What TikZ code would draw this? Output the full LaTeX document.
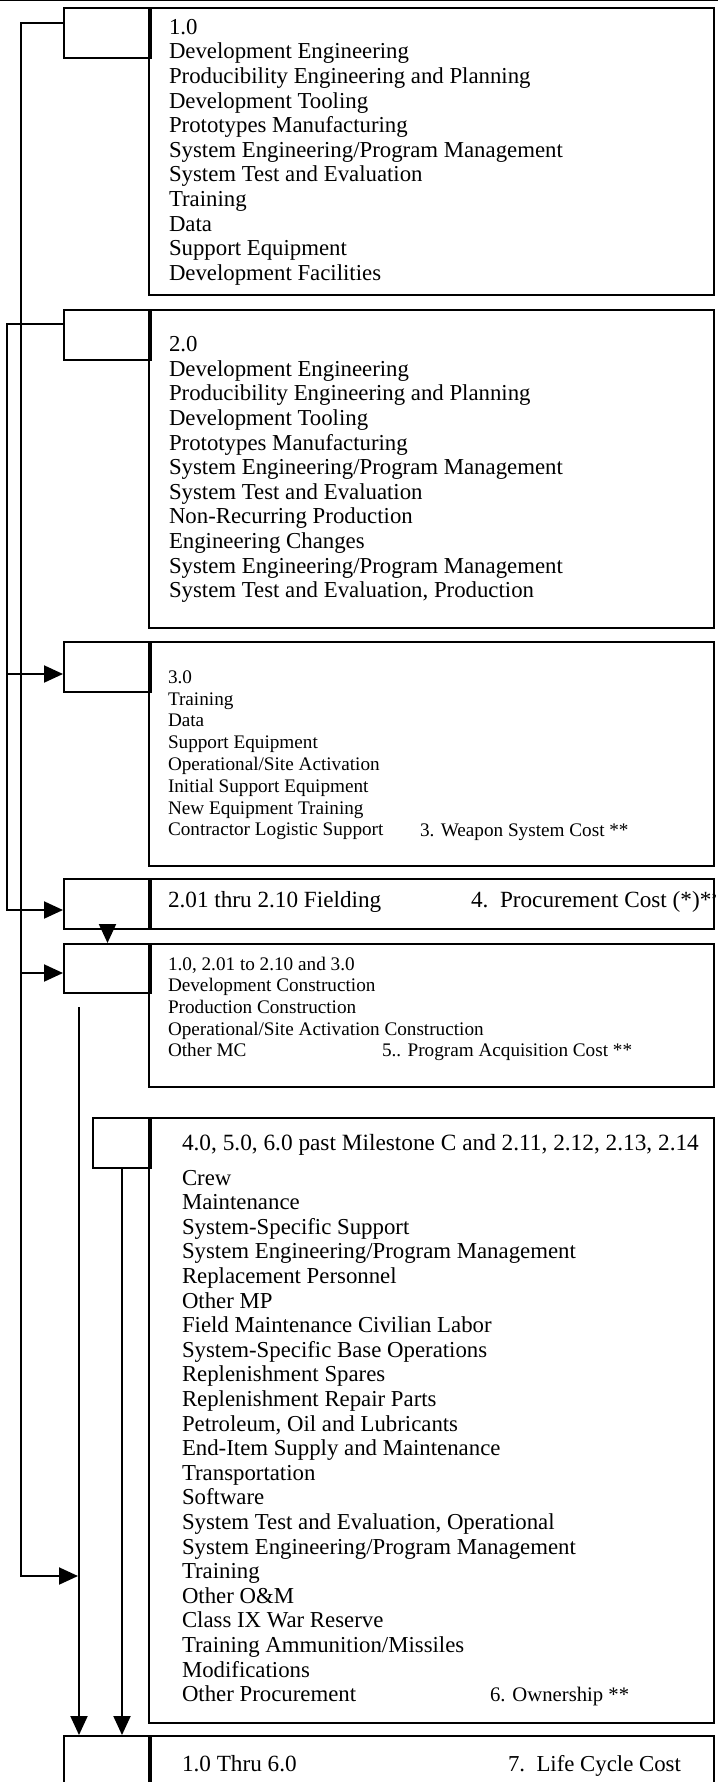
\documentclass[tikz,border=0pt]{standalone}
\usepackage{fontspec}
\setmainfont{Liberation Serif}
\usetikzlibrary{arrows.meta}
\newcommand{\bigfont}{\fontsize{22.8pt}{24.6pt}\selectfont}
\newcommand{\smallfont}{\fontsize{19.2pt}{21.8pt}\selectfont}
\newcommand{\smallfontb}{\fontsize{19.2pt}{21.7pt}\selectfont}
\newcommand{\titlefont}{\fontsize{23.3pt}{24.6pt}\selectfont}
\begin{document}
\begin{tikzpicture}[x=1pt,y=-1pt,
  bigbox/.style={draw=black, line width=2pt, rectangle, inner sep=0pt, anchor=north west, minimum width=565pt},
  smallbox/.style={draw=black, line width=2pt, rectangle, inner sep=0pt, anchor=north west, minimum height=50pt},
  conn/.style={draw=black, line width=2pt},
  arr/.style={conn, -{Triangle[length=19pt,width=17pt]}},
  txt/.style={anchor=base west, inner sep=0pt, outer sep=0pt}
]
\useasboundingbox (0,0) rectangle (718,1782);
\clip (0,0) rectangle (718,1782);
\fill[white] (0,0) rectangle (718,1782);

% top rule
\draw[line width=1.5pt] (0,0.75) -- (718,0.75);

% big boxes
\node[bigbox, minimum height=287pt] (B1) at (148,7) {};
\node[bigbox, minimum height=318pt] (B2) at (148,309) {};
\node[bigbox, minimum height=224pt] (B3) at (148,641) {};
\node[bigbox, minimum height=50pt]  (B4) at (148,878) {};
\node[bigbox, minimum height=143pt] (B5) at (148,943) {};
\node[bigbox, minimum height=605pt] (B6) at (148,1117) {};
\node[bigbox, minimum height=100pt] (B7) at (148,1735) {};

% small boxes
\node[smallbox, minimum width=87pt] (S1) at (63,7) {};
\node[smallbox, minimum width=87pt] (S2) at (63,309) {};
\node[smallbox, minimum width=87pt] (S3) at (63,641) {};
\node[smallbox, minimum width=87pt] (S4) at (63,878) {};
\node[smallbox, minimum width=87pt, minimum height=49pt] (S5) at (63,943) {};
\node[smallbox, minimum width=58pt] (S6) at (92,1117) {};
\node[smallbox, minimum width=87pt, minimum height=100pt] (S7) at (63,1735) {};

% connector points
\coordinate (S1in) at ([yshift=-16pt]S1.north west);
\coordinate (S2in) at ([yshift=-15pt]S2.north west);
\coordinate (S3in) at ([yshift=-33pt]S3.north west);
\coordinate (S4in) at ([yshift=-32pt]S4.north west);
\coordinate (S5in) at ([yshift=-30pt]S5.north west);
\coordinate (busA) at (7,0);
\coordinate (busB) at (21,0);
\coordinate (Ltop) at (79,1007);
\coordinate (Lhit) at (78,1576);

% connectors
\draw[arr] (S2in) -- (S2in -| busA) |- (S4in);
\draw[arr] (S3in -| busA) -- (S3in);
\draw[arr] (S1in) -- (S1in -| busB) |- (Lhit);
\draw[arr] (S5in -| busB) -- (S5in);
\draw[arr] (S4.south) -- (S5.north);
\draw[arr] (Ltop) -- (Ltop |- S7.north);
\draw[arr] (S6.south) -- (S6.south |- S7.north);

% texts
\node[txt] (T1) at (169,34.3) {\bigfont\begin{tabular}[t]{@{}l@{}}
1.0\\
Development Engineering\\
Producibility Engineering and Planning\\
Development Tooling\\
Prototypes Manufacturing\\
System Engineering/Program Management\\
System Test and Evaluation\\
Training\\
Data\\
Support Equipment\\
Development Facilities
\end{tabular}};

\node[txt] (T2) at (169,351.7) {\bigfont\begin{tabular}[t]{@{}l@{}}
2.0\\
Development Engineering\\
Producibility Engineering and Planning\\
Development Tooling\\
Prototypes Manufacturing\\
System Engineering/Program Management\\
System Test and Evaluation\\
Non-Recurring Production\\
Engineering Changes\\
System Engineering/Program Management\\
System Test and Evaluation, Production
\end{tabular}};

\node[txt] (T3) at (168,683.3) {\smallfont\begin{tabular}[t]{@{}l@{}}
3.0\\
Training\\
Data\\
Support Equipment\\
Operational/Site Activation\\
Initial Support Equipment\\
New Equipment Training\\
Contractor Logistic Support
\end{tabular}};
\node[txt] (T3b) at (420,836.6) {\smallfont 3. Weapon System Cost **};

\node[txt] (T4) at (168,907) {\fontsize{23.2pt}{24pt}\selectfont 2.01 thru 2.10 Fielding};
\begin{scope}
\clip (B4.north west) rectangle (B4.south east);
\node[txt] (T4b) at (471,907) {\fontsize{23.2pt}{24pt}\selectfont 4.\ \ Procurement Cost (*)**};
\end{scope}

\node[txt] (T5) at (168,970) {\smallfontb\begin{tabular}[t]{@{}l@{}}
1.0, 2.01 to 2.10 and 3.0\\
Development Construction\\
Production Construction\\
Operational/Site Activation Construction\\
Other MC
\end{tabular}};
\node[txt] (T5b) at (382,1056.8) {\smallfontb 5.. Program Acquisition Cost **};

\node[txt] (T6a) at (182,1150) {\titlefont 4.0, 5.0, 6.0 past Milestone C and 2.11, 2.12, 2.13, 2.14};
\node[txt] (T6) at (182,1185) {\bigfont\begin{tabular}[t]{@{}l@{}}
Crew\\
Maintenance\\
System-Specific Support\\
System Engineering/Program Management\\
Replacement Personnel\\
Other MP\\
Field Maintenance Civilian Labor\\
System-Specific Base Operations\\
Replenishment Spares\\
Replenishment Repair Parts\\
Petroleum, Oil and Lubricants\\
End-Item Supply and Maintenance\\
Transportation\\
Software\\
System Test and Evaluation, Operational\\
System Engineering/Program Management\\
Training\\
Other O\&M\\
Class IX War Reserve\\
Training Ammunition/Missiles\\
Modifications\\
Other Procurement
\end{tabular}};
\node[txt] (T6b) at (490,1701.6) {\fontsize{20.7pt}{24pt}\selectfont 6. Ownership **};

\node[txt] (T7) at (182,1771.7) {\fontsize{23.2pt}{24pt}\selectfont 1.0 Thru 6.0};
\node[txt] (T7b) at (508,1771.7) {\fontsize{22.8pt}{24pt}\selectfont 7.\ \ Life Cycle Cost};

\end{tikzpicture}
\end{document}
